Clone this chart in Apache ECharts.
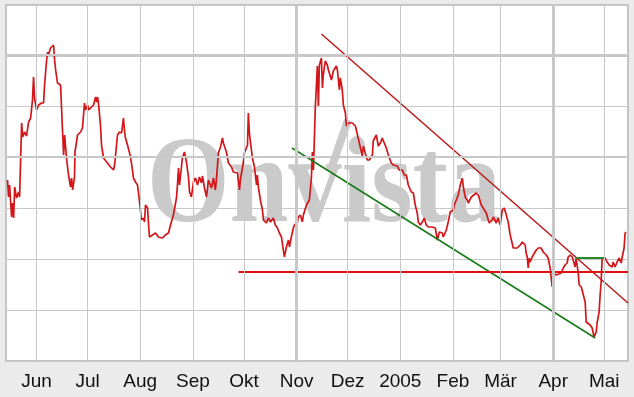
<!DOCTYPE html>
<html>
<head>
<meta charset="utf-8">
<script src="https://cdn.jsdelivr.net/npm/echarts@6/dist/echarts.min.js"></script>
<style>
html,body{margin:0;padding:0;background:#ebebeb;}
#c{width:634px;height:397px;}
</style>
</head>
<body>
<div id="c"></div>
<script>
// x = days since 14 May 2004, y = price in chart units (axis has no labels)
const DAYS = [0.9,1.5,2.1,3.3,3.9,4.5,5.1,6.2,7.4,8.0,9.2,9.8,10.9,12.1,13.3,14.5,15.6,16.2,16.8,18.0,19.2,20.9,22.1,22.7,23.9,24.5,25.0,26.2,28.0,28.6,29.2,30.3,32.1,33.3,33.9,34.5,35.6,36.8,38.0,38.6,39.2,40.3,40.6,42.1,42.7,43.9,45.0,46.2,46.8,48.0,48.6,49.7,51.5,52.7,53.3,53.9,54.4,55.6,56.2,57.4,58.0,59.7,61.5,63.3,63.9,65.6,66.8,68.0,68.6,69.1,69.7,70.3,71.5,73.3,74.4,75.0,76.2,77.4,78.6,79.7,80.9,81.5,82.1,83.3,83.8,84.4,86.2,88.0,89.7,92.1,93.8,95.6,96.8,98.5,100.3,100.9,101.5,102.1,103.8,105.0,106.2,107.4,108.0,109.1,110.3,111.5,112.7,113.8,115.0,115.6,116.8,118.0,119.1,120.9,122.1,123.2,123.8,125.0,126.2,127.4,127.9,129.7,130.9,132.7,133.8,136.2,137.4,137.9,139.7,140.3,142.1,142.6,143.2,143.8,145.0,146.2,147.4,147.9,148.5,149.7,150.9,151.5,153.2,154.4,155.6,157.3,158.5,159.7,160.9,162.1,163.2,163.8,165.0,166.2,166.8,167.9,169.1,169.7,171.5,172.0,173.2,174.4,175.0,176.8,178.5,179.7,180.3,180.9,182.0,183.2,183.8,184.4,185.6,186.2,186.7,187.9,189.1,189.7,191.5,192.6,194.4,195.0,196.2,196.7,197.9,198.5,199.7,200.3,201.4,203.8,205.6,206.7,207.9,209.7,210.3,211.4,212.6,213.8,215.6,216.1,217.9,219.1,220.3,221.4,222.6,223.8,225.0,226.7,227.9,230.3,231.4,233.2,234.4,235.6,236.7,238.5,239.7,240.8,242.0,242.6,243.8,245.0,246.1,247.3,248.5,250.8,252.6,253.8,255.0,256.7,257.3,259.1,260.2,261.4,263.2,263.8,265.0,266.1,267.3,268.5,269.1,270.2,271.4,272.0,273.8,274.9,276.7,277.9,279.7,280.8,282.6,283.8,284.4,286.1,286.7,288.5,289.6,290.8,292.0,293.2,294.4,295.5,296.7,298.5,299.6,300.8,302.6,303.8,304.3,305.5,306.1,306.7,307.3,307.9,308.5,309.6,310.2,312.0,313.2,314.9,316.1,317.9,319.0,320.2,321.4,322.0,323.8,324.9,326.7,327.9,329.0,330.2,330.8,332.0,333.2,333.7,334.9,335.5,336.1,336.7,337.3,338.5,339.6,340.8,341.4,342.0,343.7,344.9,345.5,346.1,347.3,347.9,349.0,349.6,350.2,350.8,351.4,352.6,353.7,354.9,356.7,357.3,358.4,359.6,360.8,362.0,362.6,363.7,364.3,364.9];
const PRICE = [181,164,176,144,158,143,174,163,169,164,238,224,229,225,239,243,261,284,263,251,256,258,258,276,301,309,306,313,316,301,291,278,276,229,206,226,203,186,174,183,171,184,209,226,224,229,233,258,251,256,251,253,256,264,259,264,258,236,216,203,201,198,194,191,196,226,229,228,236,243,231,223,216,204,191,183,179,176,159,141,143,139,156,153,139,124,126,128,124,123,126,128,136,146,163,176,193,176,203,209,199,183,169,164,179,183,176,184,178,185,173,164,181,173,183,171,181,208,214,223,218,209,198,194,189,188,171,181,199,208,216,248,228,229,203,194,176,186,174,161,151,141,138,143,139,143,136,133,128,124,111,104,114,121,114,124,133,136,139,144,146,139,146,156,161,183,209,191,253,295,255,296,303,273,286,300,296,291,281,290,295,291,271,283,271,256,248,235,238,238,235,233,218,205,215,208,201,201,206,220,226,215,218,223,218,213,206,198,196,195,191,191,186,186,176,169,168,156,148,139,136,139,143,136,134,134,133,121,129,128,124,131,139,149,151,156,161,166,176,183,174,164,161,158,164,166,168,166,156,153,148,141,138,141,144,138,143,136,151,153,146,139,126,113,111,113,116,119,121,116,108,104,93,103,99,104,103,111,113,113,109,106,103,93,74,88,86,86,88,93,96,98,104,106,104,103,94,103,101,88,76,74,74,59,39,38,36,33,28,24,29,39,49,66,79,103,104,103,99,96,94,99,94,99,103,98,104,113,128,129];

// month gridlines (day offsets of the 1st of each month) and their labels
const MONTH_DAYS = [18,48,79,110,140,171,201,232,263,291,322,352];
const MONTH_LABELS = ['Jun','Jul','Aug','Sep','Okt','Nov','Dez','2005','Feb','Mär','Apr','Mai'];
const THICK_MONTHS = ['Nov','Apr'];
const THICK_LEVELS = [306, 204];

// drawn trend lines [day, value]
const RED_TREND = [[185.6,327],[366,58]];
const GREEN_TREND = [[168.3,213],[346.7,23]];
const RED_LEVEL = [[136.8,89],[366,89]];
const GREEN_LEVEL = [[335.5,103],[352.0,103]];

const X_MAX = 366, Y_MAX = 356;

const chart = echarts.init(document.getElementById('c'), null, {renderer:'canvas'});

const vLines = MONTH_DAYS.map((d,i)=>({
  xAxis: d,
  lineStyle: {color:'#c8c8c8', type:'solid', width: THICK_MONTHS.indexOf(MONTH_LABELS[i])>=0 ? 3 : 1}
}));
const hLines = THICK_LEVELS.map(v=>({yAxis:v, lineStyle:{color:'#c8c8c8', type:'solid', width:2}}));

function trend(data, color, width){
  return {type:'line', data:data, symbol:'none', silent:true, z:4,
    lineStyle:{color:color, width:width}, animation:false};
}

chart.setOption({
  backgroundColor:'#ebebeb',
  animation:false,
  grid:{left:6, right:6, top:5, bottom:36, show:true, backgroundColor:'#ffffff', borderColor:'#c4c4c4', borderWidth:2},
  xAxis:{
    type:'value', min:0, max:X_MAX,
    axisLine:{show:false}, axisTick:{show:false}, splitLine:{show:false},
    axisLabel:{
      customValues: MONTH_DAYS,
      formatter: v => { const i = MONTH_DAYS.indexOf(Math.round(v)); return i>=0 ? MONTH_LABELS[i] : ''; },
      fontFamily:'"Liberation Sans", Arial, sans-serif', fontSize:19, color:'#111111', margin:11
    }
  },
  yAxis:{
    type:'value', min:0, max:Y_MAX, interval:Y_MAX/7,
    axisLine:{show:false}, axisTick:{show:false}, axisLabel:{show:false},
    splitLine:{show:true, lineStyle:{color:'#c8c8c8', width:1}}
  },
  graphic:[{
    type:'text', x:147, y:189, z:1, silent:true, scaleX:0.87,
    style:{text:'Onvista', font:'bold 122px "Liberation Serif", "Times New Roman", serif', fill:'#cacaca', verticalAlign:'middle', align:'left'}
  },{
    type:'line', z:1, silent:true,
    shape:{x1:348, y1:120, x2:330, y2:172},
    style:{stroke:'#cacaca', lineWidth:8}
  }],
  series:[
    {type:'line', data:[], z:1, silent:true, symbol:'none',
     markLine:{symbol:'none', silent:true, label:{show:false}, animation:false, data: vLines.concat(hLines)}},
    {type:'line', data: DAYS.map((d,i)=>[d, PRICE[i]]), symbol:'none', z:3,
     lineStyle:{color:'#d2161a', width:1.7}},
    trend(RED_TREND, '#b81818', 1.5),
    trend(GREEN_TREND, '#177a17', 1.5),
    trend(RED_LEVEL, '#e01010', 2),
    trend(GREEN_LEVEL, '#2a8a2a', 2)
  ]
});
</script>
</body>
</html>
